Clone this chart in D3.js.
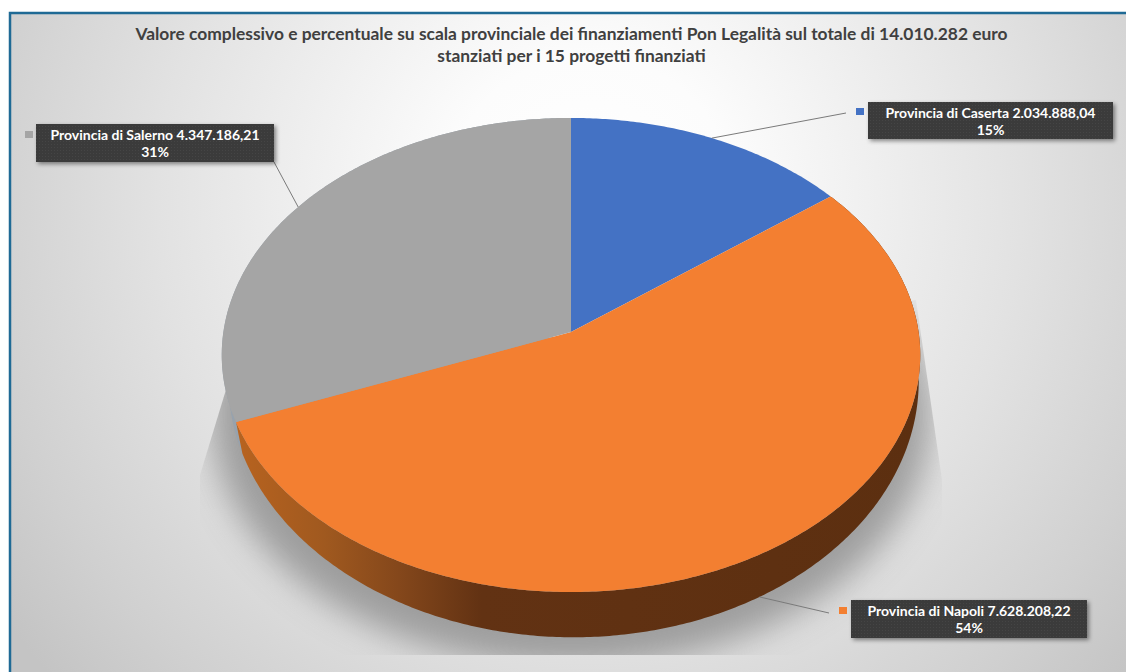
<!DOCTYPE html>
<html>
<head>
<meta charset="utf-8">
<script src="https://cdn.jsdelivr.net/npm/d3@7"></script>
<style>
    html, body { margin: 0; padding: 0; background: #fff; }
    svg { display: block; }
    text { font-family: Lato, "Open Sans", sans-serif; font-weight: 700; }
</style>
</head>
<body>
<script>
const width = 1126;
const height = 672;

// Chart values
const provinces = ["Provincia di Caserta", "Provincia di Napoli", "Provincia di Salerno"];
const amounts = [2034888.04, 7628208.22, 4347186.21];
const sliceColours = ["#4472c4", "#f37f31", "#a5a5a5"];
const titleLines = [
    "Valore complessivo e percentuale su scala provinciale dei finanziamenti Pon Legalità sul totale di 14.010.282 euro",
    "stanziati per i 15 progetti finanziati",
];

const locale = d3.formatLocale({ decimal: ",", thousands: ".", grouping: [3], currency: ["", "€"] });
const fmtAmount = locale.format(",.2f");
const fmtShare = d3.format(".0%");

const svg = d3.select("body").append("svg").attr("width", width).attr("height", height);
const defs = svg.append("defs");

// Background
const bg = defs.append("radialGradient").attr("id", "bg")
    .attr("gradientUnits", "userSpaceOnUse")
    .attr("cx", 590).attr("cy", 200).attr("r", 720);
[[0, "#ffffff"], [0.2, "#fcfcfc"], [0.6, "#e2e2e2"], [0.85, "#d0d0d0"], [1, "#c4c4c4"]].forEach(([o, c]) =>
    bg.append("stop").attr("offset", o).attr("stop-color", c));

svg.append("rect").attr("width", width).attr("height", height).attr("fill", "#fff");
svg.append("rect").attr("x", 10).attr("y", 13).attr("width", width).attr("height", height)
    .attr("fill", "url(#bg)").attr("stroke", "#1f6a95").attr("stroke-width", 2.5);

// Perspective pie: level 0 is the top face, level 1 the bottom rim
const faces = [
    { x0: 571, y0: 332, a: 347.6, b: 234.8, k: 0.097 },
    { x0: 573.5, y0: 356, a: 343.6, b: 254, k: 0.097 },
];
function project(angle, level) {
    const f = faces[level];
    const u = Math.sin(angle);
    const v = -Math.cos(angle);
    const d = 1 - f.k * v;
    return [f.x0 + (f.a * u) / d, f.y0 + (f.b * v) / d];
}
function arcPoints(a0, a1, level) {
    const n = Math.max(2, Math.ceil((a1 - a0) / 0.01));
    return d3.range(n + 1).map((i) => project(a0 + ((a1 - a0) * i) / n, level));
}

const pie = d3.pie().sort(null).value((d) => d)(amounts);
const total = d3.sum(amounts);
const line = d3.line();

// Shadow under the pie
const blur = defs.append("filter").attr("id", "shadowBlur")
    .attr("x", "-20%").attr("y", "-20%").attr("width", "140%").attr("height", "140%");
blur.append("feGaussianBlur").attr("stdDeviation", 17);

defs.append("clipPath").attr("id", "shadowClip").append("path")
    .attr("d", "M232,370L200,475L200,655L942,655L942,480L916,300Z");

svg.append("g").attr("clip-path", "url(#shadowClip)")
    .append("ellipse")
    .attr("cx", 571).attr("cy", 415).attr("rx", 360).attr("ry", 252)
    .attr("fill", "#868686").attr("opacity", 0.75)
    .attr("filter", "url(#shadowBlur)");

// Side wall gradient
const wall = defs.append("linearGradient").attr("id", "wallOrange")
    .attr("gradientUnits", "userSpaceOnUse")
    .attr("x1", 235).attr("x2", 920).attr("y1", 0).attr("y2", 0);
[[0, "#b8631f"], [0.13, "#a0591f"], [0.24, "#84471b"], [0.36, "#623213"], [1, "#5c2f10"]].forEach(([o, c]) =>
    wall.append("stop").attr("offset", o).attr("stop-color", c));

// Walls: back slices first, then the big one in front
const wallFill = ["#5c6f94", "url(#wallOrange)", "#97a2ad"];
[2, 1].forEach((i) => {
    const s = pie[i];
    const top = arcPoints(s.startAngle, s.endAngle, 0);
    const bottom = arcPoints(s.startAngle, s.endAngle, 1).reverse();
    svg.append("path").attr("d", line(top.concat(bottom)) + "Z").attr("fill", wallFill[i]);
});

// Top face
svg.append("g").selectAll("path").data(pie).join("path")
    .attr("d", (d) => line([[faces[0].x0, faces[0].y0]]
        .concat(arcPoints(d.startAngle, d.endAngle, 0))) + "Z")
    .attr("fill", (d, i) => sliceColours[i]);

// Data labels
const labelLayout = [
    { box: [868, 102, 245, 37], key: [856, 108], leaderEnd: [846, 113], rim: 0 },
    { box: [851, 600, 236, 38], key: [839, 607], leaderEnd: [829, 613], rim: 1 },
    { box: [36, 124, 238, 38], key: [25, 131], leaderEnd: [274, 162], rim: 0 },
];

const dots = defs.append("pattern").attr("id", "dots").attr("patternUnits", "userSpaceOnUse")
    .attr("width", 3).attr("height", 3);
dots.append("rect").attr("width", 3).attr("height", 3).attr("fill", "#3b3b3b");
dots.append("rect").attr("width", 1).attr("height", 1).attr("fill", "#444444");

const boxShadow = defs.append("filter").attr("id", "boxShadow")
    .attr("x", "-10%").attr("y", "-30%").attr("width", "120%").attr("height", "170%");
boxShadow.append("feDropShadow").attr("dx", 2).attr("dy", 2).attr("stdDeviation", 2)
    .attr("flood-color", "#000").attr("flood-opacity", 0.45);

const labels = svg.append("g").selectAll("g").data(pie).join("g");

labels.append("path")
    .attr("d", (d, i) => {
        const mid = (d.startAngle + d.endAngle) / 2;
        return line([project(mid, labelLayout[i].rim), labelLayout[i].leaderEnd]);
    })
    .attr("fill", "none").attr("stroke", "#7a7a7a").attr("stroke-width", 1);

labels.append("rect")
    .attr("x", (d, i) => labelLayout[i].key[0])
    .attr("y", (d, i) => labelLayout[i].key[1])
    .attr("width", 8).attr("height", 7)
    .attr("fill", (d, i) => sliceColours[i]);

labels.append("rect")
    .attr("x", (d, i) => labelLayout[i].box[0])
    .attr("y", (d, i) => labelLayout[i].box[1])
    .attr("width", (d, i) => labelLayout[i].box[2])
    .attr("height", (d, i) => labelLayout[i].box[3])
    .attr("fill", "url(#dots)").attr("filter", "url(#boxShadow)");

labels.append("text")
    .attr("x", (d, i) => labelLayout[i].box[0] + labelLayout[i].box[2] / 2)
    .attr("y", (d, i) => labelLayout[i].box[1] + 16)
    .attr("text-anchor", "middle").attr("fill", "#fff").attr("font-size", 14)
    .text((d, i) => `${provinces[i]} ${fmtAmount(d.value)}`);

labels.append("text")
    .attr("x", (d, i) => labelLayout[i].box[0] + labelLayout[i].box[2] / 2)
    .attr("y", (d, i) => labelLayout[i].box[1] + 33)
    .attr("text-anchor", "middle").attr("fill", "#fff").attr("font-size", 14)
    .text((d) => fmtShare(d.value / total));

// Title
svg.append("g").selectAll("text").data(titleLines).join("text")
    .attr("x", 571.5)
    .attr("y", (d, i) => 40 + i * 22)
    .attr("text-anchor", "middle")
    .attr("fill", "#404040")
    .attr("font-size", 17.4)
    .text((d) => d);
</script>
</body>
</html>
